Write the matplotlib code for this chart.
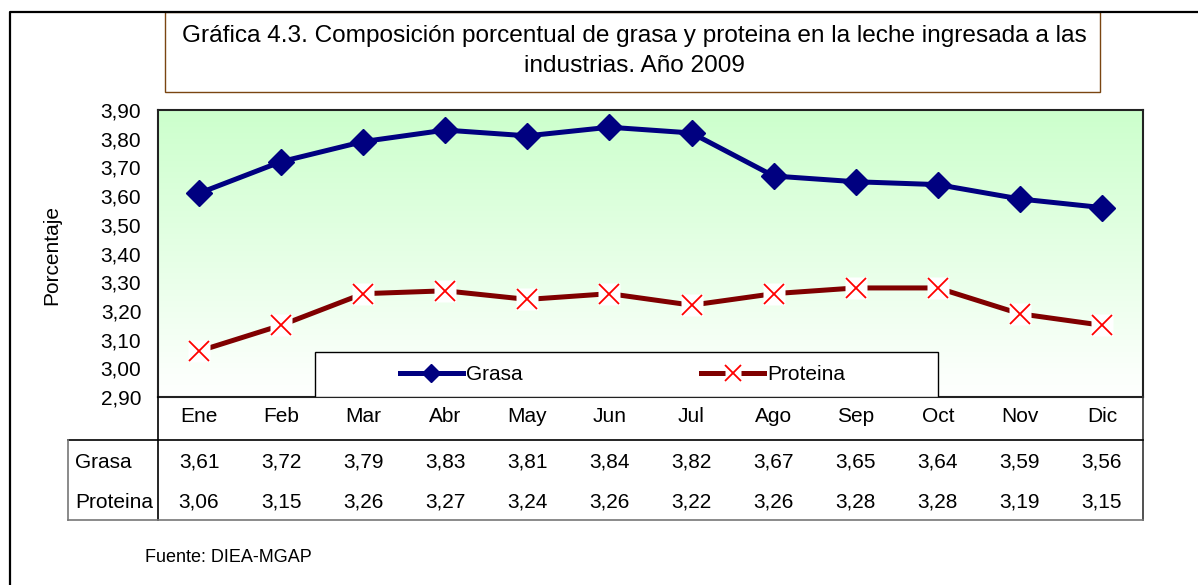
import numpy as np
import matplotlib
matplotlib.use("Agg")
import matplotlib.pyplot as plt
from matplotlib.colors import LinearSegmentedColormap
from matplotlib.lines import Line2D
from matplotlib.patches import Rectangle
from matplotlib.transforms import blended_transform_factory
from matplotlib.legend_handler import HandlerTuple

plt.rcParams['font.family'] = ['Liberation Sans', 'DejaVu Sans']

# --- datos ---
meses = ["Ene", "Feb", "Mar", "Abr", "May", "Jun", "Jul", "Ago", "Sep", "Oct", "Nov", "Dic"]
grasa = [3.61, 3.72, 3.79, 3.83, 3.81, 3.84, 3.82, 3.67, 3.65, 3.64, 3.59, 3.56]
proteina = [3.06, 3.15, 3.26, 3.27, 3.24, 3.26, 3.22, 3.26, 3.28, 3.28, 3.19, 3.15]
y_ticks = [2.90, 3.00, 3.10, 3.20, 3.30, 3.40, 3.50, 3.60, 3.70, 3.80, 3.90]

titulo = ("Gráfica 4.3. Composición porcentual de grasa y proteina en la leche ingresada a las\n"
          "industrias. Año 2009")
fuente = "Fuente: DIEA-MGAP"

W, H = 1198, 585
FS = 15


def fx(x):
    return x / W


def fy(y):
    return 1 - y / H


fig = plt.figure(figsize=(W / 100, H / 100), dpi=100)

# area del grafico
ax = fig.add_axes([fx(158), fy(397), fx(1143) - fx(158), fy(110) - fy(397)])

# fondo degradado verde -> blanco
cmap = LinearSegmentedColormap.from_list("fondo", ["#ffffff", "#ccffcc"])
grad = np.linspace(0, 1, 256).reshape(-1, 1)
ax.imshow(grad, extent=[0, 1, 0, 1], transform=ax.transAxes, cmap=cmap,
          origin="lower", aspect="auto", zorder=0)

x = np.arange(len(meses))
ax.plot(x, grasa, color="#000080", lw=3.6, marker="D", ms=13,
        mfc="#000080", mec="#000080", zorder=3)
ax.plot(x, proteina, color="#800000", lw=3.6, zorder=2)
ax.plot(x, proteina, ls="none", marker="s", ms=16, mfc="white", mec="none", zorder=2.5)
ax.plot(x, proteina, ls="none", marker="x", ms=15, mew=1.3, mec="#ff0000", zorder=2.6)

ax.set_xlim(-0.5, len(meses) - 0.5)
ax.set_ylim(2.9, 3.9)
ax.set_xticks([])
ax.set_yticks(y_ticks)
ax.set_yticklabels([f"{v:.2f}".replace(".", ",") for v in y_ticks], fontsize=FS)
ax.tick_params(axis="y", length=0, pad=12)
for s in ax.spines.values():
    s.set_color("#222222")
    s.set_linewidth(1.5)

# leyenda
ax.add_patch(Rectangle(((315 - 158) / 985, 0), (938 - 315) / 985, (397 - 352) / 287,
                       transform=ax.transAxes, facecolor="white", edgecolor="black",
                       lw=1, zorder=4))
h_grasa = Line2D([], [], color="#000080", lw=3.6, marker="D", ms=9,
                 mfc="#000080", mec="#000080")
h_prot = (Line2D([], [], color="#800000", lw=3.6),
          Line2D([], [], ls="none", marker="s", ms=12, mfc="white", mec="none"),
          Line2D([], [], ls="none", marker="x", ms=12, mew=1.3, mec="#ff0000"))
ax.legend([h_grasa, h_prot], ["Grasa", "Proteina"], ncol=2, frameon=False,
          loc="center left", bbox_to_anchor=((400 - 158) / 985, (397 - 375) / 287),
          borderpad=0, borderaxespad=0, handlelength=3.0, handletextpad=0.15,
          columnspacing=8.6, fontsize=FS,
          handler_map={tuple: HandlerTuple(ndivide=1)})

# tabla de datos
tr = blended_transform_factory(ax.transData, fig.transFigure)
for i, m in enumerate(meses):
    fig.text(i, fy(417), m, transform=tr, ha="center", va="center", fontsize=FS)
    fig.text(i, fy(462), f"{grasa[i]:.2f}".replace(".", ","), transform=tr,
             ha="center", va="center", fontsize=FS)
    fig.text(i, fy(502), f"{proteina[i]:.2f}".replace(".", ","), transform=tr,
             ha="center", va="center", fontsize=FS)
fig.text(fx(75), fy(462), "Grasa", ha="left", va="center", fontsize=FS)
fig.text(fx(75), fy(502), "Proteina", ha="left", va="center", fontsize=FS)

lineas = [
    ((158, 158), (397, 520), "black"),
    ((1143, 1143), (397, 520), "#333333"),
    ((68, 1143), (440, 440), "black"),
    ((68, 68), (440, 520), "#777777"),
    ((68, 1143), (520, 520), "#777777"),
]
for xs, ys, c in lineas:
    fig.add_artist(Line2D([fx(v) for v in xs], [fy(v) for v in ys], color=c, lw=1.2))

# marco exterior
fig.add_artist(Line2D([fx(10), fx(10), fx(1198)], [fy(585), fy(12), fy(12)],
                      color="black", lw=1.6))

# titulo
fig.add_artist(Rectangle((fx(165), fy(92)), fx(1100) - fx(165), fy(12) - fy(92),
                         transform=fig.transFigure, facecolor="white",
                         edgecolor="#7a4511", lw=1))
fig.text(fx(634), fy(51), titulo, ha="center", va="center", fontsize=17.6,
         linespacing=1.5)

fig.text(fx(52), fy(255), "Porcentaje", rotation=90, ha="center", va="center",
         fontsize=15)
fig.text(fx(145), fy(558), fuente, ha="left", va="center", fontsize=13)

fig.savefig("out.png", dpi=100)
